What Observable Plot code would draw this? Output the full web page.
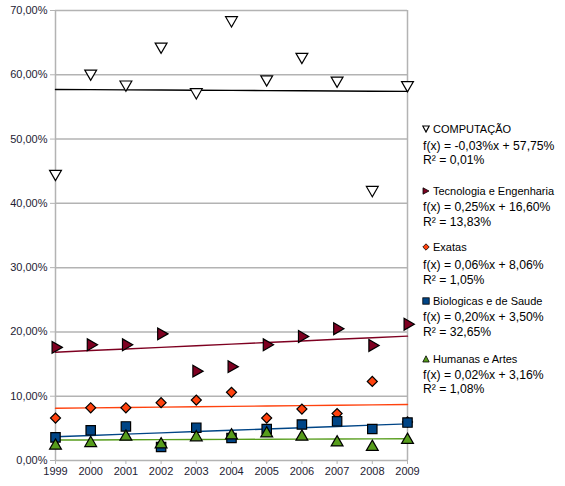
<!DOCTYPE html>
<html><head><meta charset="utf-8">
<script src="https://cdn.jsdelivr.net/npm/d3@7"></script>
<script src="https://cdn.jsdelivr.net/npm/@observablehq/plot@0.6"></script>
<style>
body{margin:0;background:#fff;font-family:"Liberation Sans",Arial,sans-serif;}
#wrap{position:relative;width:565px;height:486px;}
.lg{position:absolute;white-space:nowrap;color:#000;}
.nm{font-size:11px;line-height:12px;}
.fx{font-size:12.2px;line-height:12px;}
.lg svg{vertical-align:middle;margin-right:3px;position:relative;top:-1px;}
</style></head><body><div id="wrap"></div>
<script>
// Data (values in %)
const years = [1999, 2000, 2001, 2002, 2003, 2004, 2005, 2006, 2007, 2008, 2009];
const seriesNames = ["COMPUTAÇÃO", "Tecnologia e Engenharia", "Exatas", "Biologicas e de Saude", "Humanas e Artes"];
const computacao = [44.6, 60.2, 58.5, 64.4, 57.3, 68.5, 59.3, 62.8, 59.1, 42.1, 58.4];
const tecnologia = [17.6, 18.0, 18.0, 19.7, 13.9, 14.6, 18.0, 19.3, 20.5, 17.9, 21.2];
const exatas     = [6.6, 8.2, 8.2, 9.0, 9.4, 10.6, 6.6, 8.0, 7.3, 12.3, 6.0];
const biologicas = [3.6, 4.7, 5.3, 2.1, 5.1, 3.5, 4.9, 5.6, 6.1, 4.9, 5.9];
const humanas    = [2.3, 2.7, 3.7, 2.5, 3.6, 3.9, 4.2, 3.7, 2.8, 2.1, 3.2];
// Trend lines f(x) = a·x + b, x = 1..11
const slopes     = [-0.03, 0.25, 0.06, 0.20, 0.02];
const intercepts = [57.75, 16.60, 8.06, 3.50, 3.16];
const r2         = [0.01, 13.83, 1.05, 32.65, 1.08];
const yTicks = [0, 0.1, 0.2, 0.3, 0.4, 0.5, 0.6, 0.7];

const allValues = [computacao, tecnologia, exatas, biologicas, humanas];
const colors = ["#000000", "#7E0021", "#FF420E", "#004586", "#579D1C"];
const fills = ["#ffffff", "#7E0021", "#FF420E", "#004586", "#579D1C"];
const symbols = [
  {symbol: "triangle", rotate: 180, r: 4.4},
  {symbol: "triangle", rotate: 90, r: 4.4},
  {symbol: "square", rotate: 45, r: 4.0},
  {symbol: "square", rotate: 0, r: 5.3},
  {symbol: "triangle", rotate: 0, r: 4.4}
];

const points = [];
allValues.forEach((vals, s) => vals.forEach((v, i) => points.push({s, year: years[i], v: v / 100})));
const trend = [];
slopes.forEach((a, s) => years.forEach((yr, i) => trend.push({s, year: yr, v: (a * (i + 1) + intercepts[s]) / 100})));

const pctFmt = d => (d * 100).toFixed(2).replace(".", ",") + "%";
const numFmt = v => v.toFixed(2).replace(".", ",") + "%";

const marks = [
  Plot.gridY(yTicks, {stroke: "#b3b3b3", strokeOpacity: 1, strokeWidth: 1.5}),
  Plot.ruleX([1999, 2009], {y1: 0, y2: 0.7, stroke: "#b3b3b3", strokeWidth: 1.5}),
  Plot.axisY(yTicks, {label: null, tickSize: 5, tickFormat: pctFmt, stroke: "#b3b3b3", fill: "#1e2233", fontSize: 11, tickPadding: 3}),
  Plot.axisX(years, {label: null, tickSize: 4, tickFormat: "d", stroke: "#b3b3b3", fill: "#1e2233", fontSize: 11, tickPadding: 3}),
];
for (let s = 0; s < 5; s++) {
  marks.push(Plot.line(trend.filter(d => d.s === s), {x: "year", y: "v", stroke: colors[s], strokeWidth: 1.4}));
}
for (let s = 0; s < 5; s++) {
  marks.push(Plot.dot(points.filter(d => d.s === s), {
    x: "year", y: "v", symbol: symbols[s].symbol, rotate: symbols[s].rotate, r: symbols[s].r,
    fill: fills[s], stroke: "#000", strokeWidth: 1.2
  }));
}

const chart = Plot.plot({
  width: 565, height: 486,
  marginLeft: 55, marginRight: 158, marginTop: 10, marginBottom: 26,
  style: {fontFamily: "Liberation Sans, Arial, sans-serif", background: "#fff"},
  x: {domain: [1999, 2009], axis: null},
  y: {domain: [0, 0.7], axis: null},
  marks
});
const wrap = document.getElementById("wrap");
wrap.appendChild(chart);

// Legend (HTML overlay at right)
const nameY = [129, 191, 247, 301, 359];
const fxY = [146, 207, 265, 317, 375];
const r2Y = [160, 221.5, 279.5, 332, 389];
function legendSymbol(s) {
  const sz = 8;
  let shape;
  if (s === 0) shape = `<polygon points="0.8,1 7.2,1 4,7" fill="#fff" stroke="#000" stroke-width="1.2"/>`;
  else if (s === 1) shape = `<polygon points="1,0.8 7,4 1,7.2" fill="${fills[s]}" stroke="#000" stroke-width="0.8"/>`;
  else if (s === 2) shape = `<polygon points="4,0.8 7.2,4 4,7.2 0.8,4" fill="${fills[s]}" stroke="#000" stroke-width="0.8"/>`;
  else if (s === 3) shape = `<rect x="0.8" y="0.8" width="6.4" height="6.4" fill="${fills[s]}" stroke="#000" stroke-width="0.8"/>`;
  else shape = `<polygon points="4,0.8 7.2,7 0.8,7" fill="${fills[s]}" stroke="#000" stroke-width="0.8"/>`;
  return `<svg width="${sz}" height="${sz}" viewBox="0 0 ${sz} ${sz}">${shape}</svg>`;
}
seriesNames.forEach((name, s) => {
  const n = document.createElement("div");
  n.className = "lg nm";
  n.style.left = "422px"; n.style.top = (nameY[s] - 6) + "px";
  n.innerHTML = legendSymbol(s) + name;
  wrap.appendChild(n);
  const f = document.createElement("div");
  f.className = "lg fx";
  f.style.left = "423px"; f.style.top = (fxY[s] - 6) + "px";
  f.textContent = "f(x) = " + numFmt(slopes[s]) + "x + " + numFmt(intercepts[s]);
  wrap.appendChild(f);
  const r = document.createElement("div");
  r.className = "lg fx";
  r.style.left = "423px"; r.style.top = (r2Y[s] - 6) + "px";
  r.textContent = "R² = " + numFmt(r2[s]);
  wrap.appendChild(r);
});
</script>
</body></html>
